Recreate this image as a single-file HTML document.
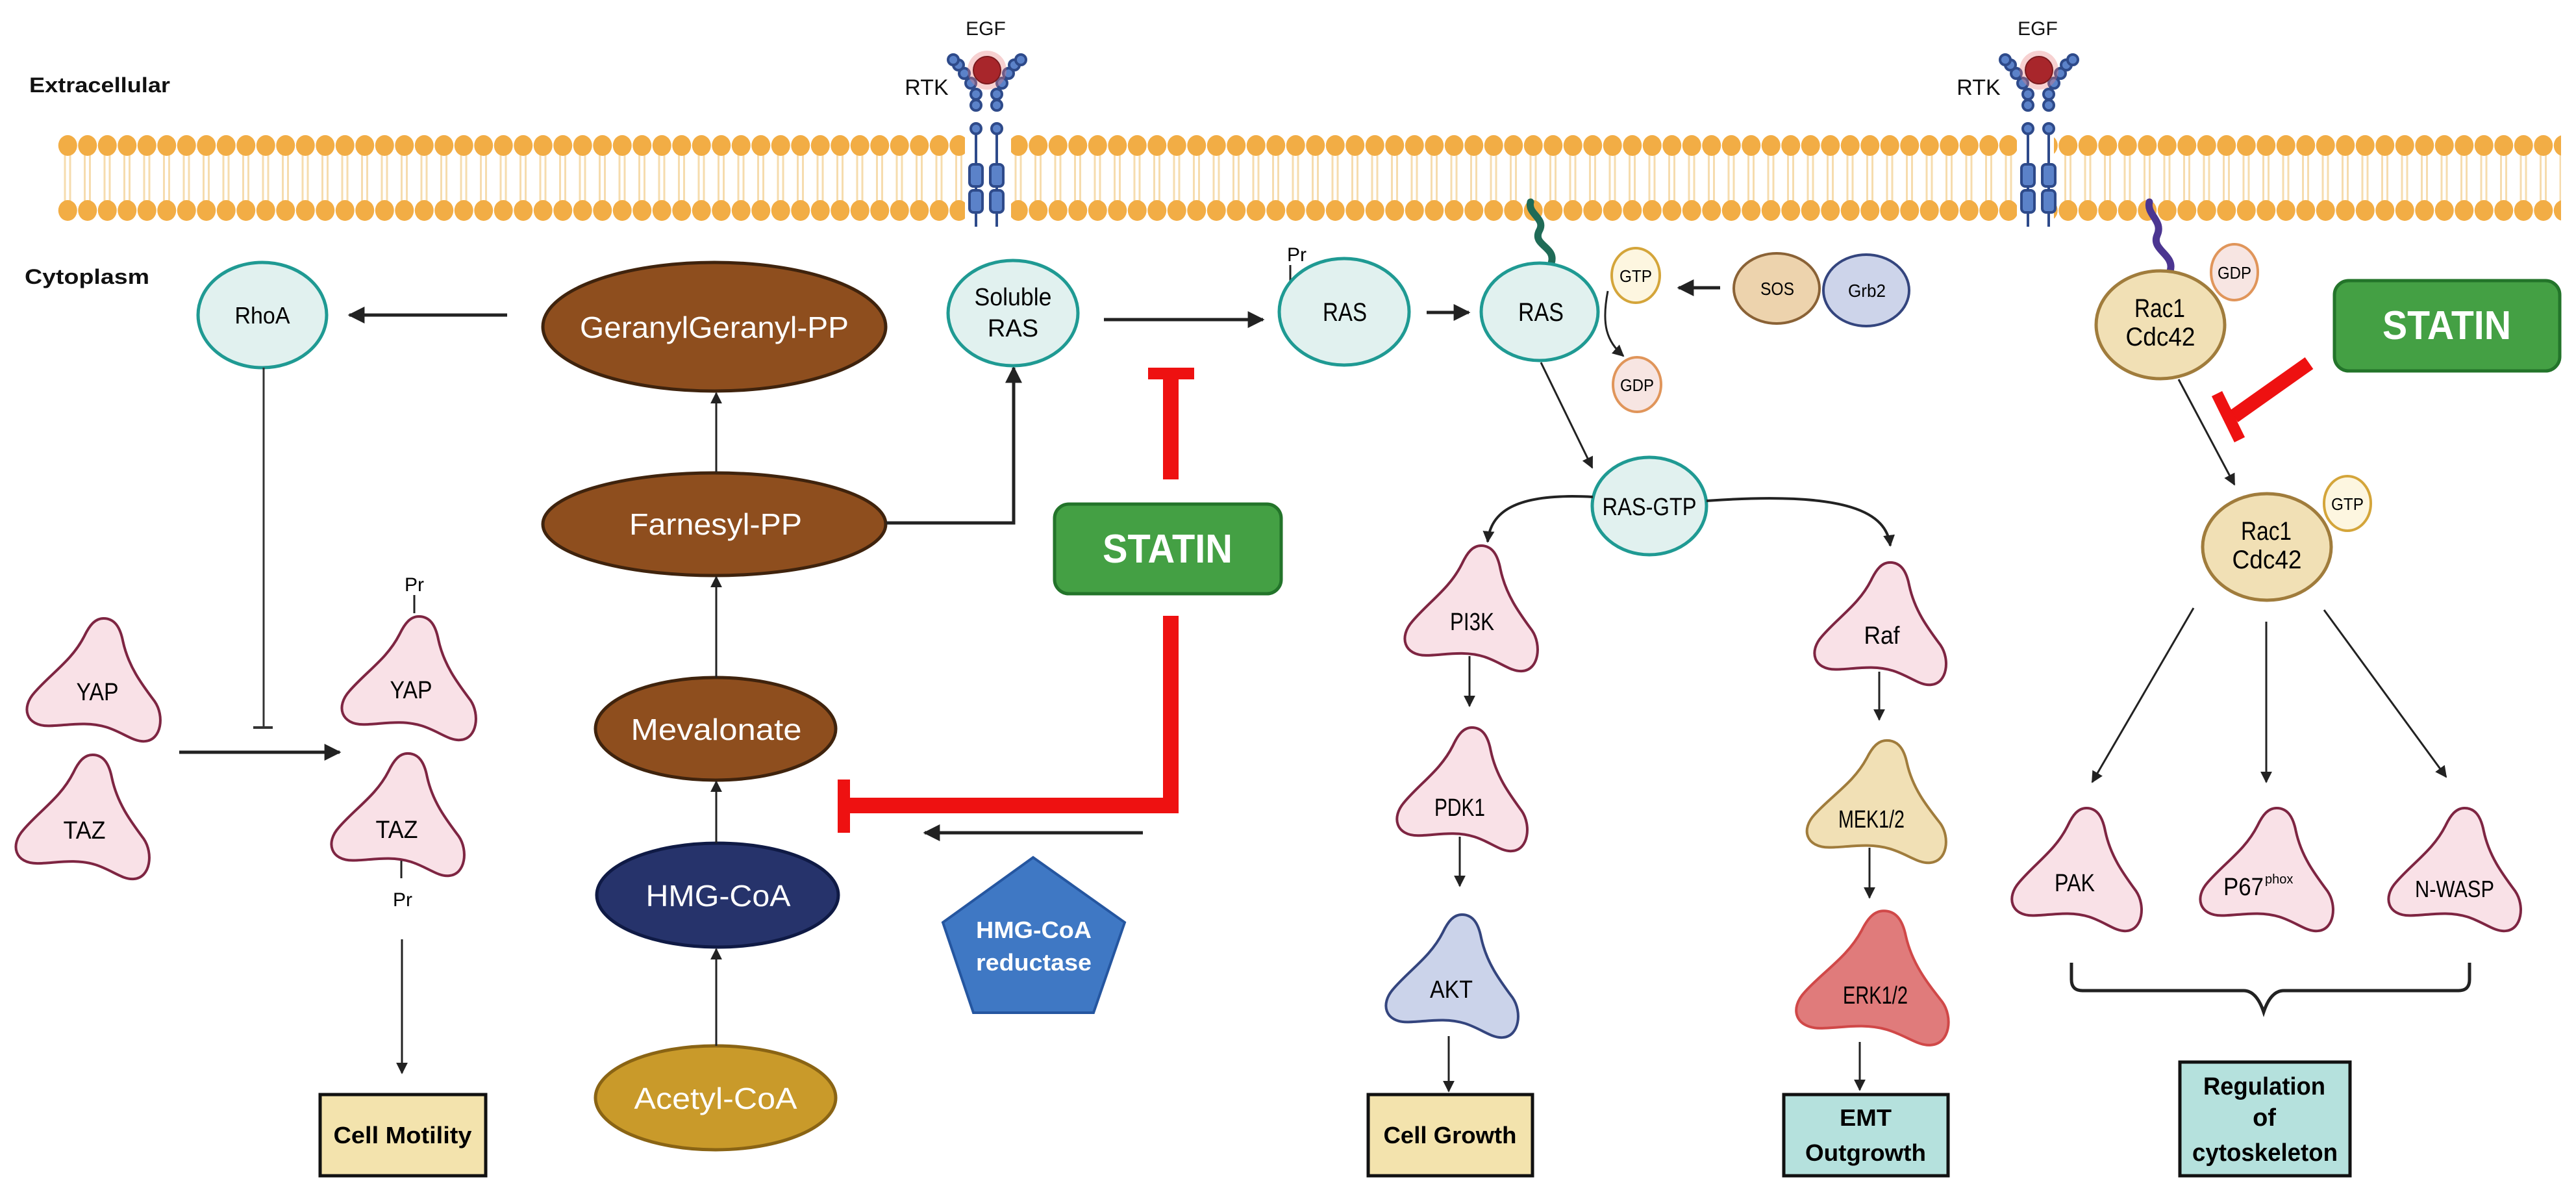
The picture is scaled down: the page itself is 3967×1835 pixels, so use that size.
<!DOCTYPE html>
<html><head><meta charset="utf-8"><style>
html,body{margin:0;padding:0;background:#fff;}
svg{display:block;}
text{font-family:"Liberation Sans",sans-serif;}
</style></head><body>
<svg width="3967" height="1835" viewBox="0 0 3967 1835" xmlns="http://www.w3.org/2000/svg">
<defs>
<pattern id="mem" x="89" y="208" width="30.5" height="132" patternUnits="userSpaceOnUse">
<line x1="11" y1="30" x2="11" y2="102" stroke="#f6dcae" stroke-width="3"/>
<line x1="19" y1="30" x2="19" y2="102" stroke="#f6dcae" stroke-width="3"/>
<ellipse cx="15.25" cy="16" rx="14.5" ry="16" fill="#f2ad45"/>
<ellipse cx="15.25" cy="116" rx="14.5" ry="16" fill="#f2ad45"/>
</pattern>
<marker id="ah" viewBox="0 0 10 10" refX="9" refY="5" markerUnits="userSpaceOnUse" markerWidth="26" markerHeight="26" orient="auto"><path d="M0,0 L10,5 L0,10 z" fill="#222"/></marker>
<marker id="as" viewBox="0 0 10 10" refX="9" refY="5" markerUnits="userSpaceOnUse" markerWidth="18" markerHeight="18" orient="auto"><path d="M0,0 L10,5 L0,10 z" fill="#222"/></marker>
<path id="prot" vector-effect="non-scaling-stroke" d="M58 2 C66 2 70 9 72 20 C76 40 86 54 95 67 C102 78 100 97 88 98 C80 99 72 91 60 87 C45 82 30 86 18 86 C2 86 -2 72 8 60 C20 45 35 35 44 16 C48 7 52 2 58 2 Z"/>
</defs>

<!-- labels -->
<text x="45" y="142" font-size="32" font-weight="bold" textLength="217" lengthAdjust="spacingAndGlyphs" fill="#111">Extracellular</text>
<text x="38" y="437" font-size="32" font-weight="bold" textLength="192" lengthAdjust="spacingAndGlyphs" fill="#111">Cytoplasm</text>

<!-- membrane -->
<rect x="89" y="208" width="1397" height="132" fill="url(#mem)"/>
<rect x="1557" y="208" width="1549" height="132" fill="url(#mem)"/>
<rect x="3163" y="208" width="781" height="132" fill="url(#mem)"/>

<!-- RTK 1 & 2 -->
<g id="rtk1">
<g stroke="#2e4a8a" stroke-width="4" fill="#5b82c9">
<line x1="1503" y1="200" x2="1503" y2="349"/><line x1="1535" y1="200" x2="1535" y2="349"/>
<rect x="1493" y="253" width="20" height="34" rx="6"/><rect x="1493" y="293" width="20" height="34" rx="6"/>
<rect x="1525" y="253" width="20" height="34" rx="6"/><rect x="1525" y="293" width="20" height="34" rx="6"/>
<circle cx="1503" cy="198" r="8"/><circle cx="1535" cy="198" r="8"/>
<circle cx="1503" cy="162" r="8"/><circle cx="1535" cy="162" r="8"/>
<circle cx="1503" cy="145" r="8"/><circle cx="1535" cy="145" r="8"/>
<circle cx="1495" cy="128" r="8"/><circle cx="1543" cy="128" r="8"/>
<circle cx="1485" cy="113" r="8"/><circle cx="1553" cy="113" r="8"/>
<circle cx="1476" cy="100" r="8"/><circle cx="1562" cy="100" r="8"/>
<circle cx="1468" cy="92" r="8"/><circle cx="1572" cy="92" r="8"/>
</g>
<circle cx="1520" cy="108" r="30" fill="#e87a7a" opacity="0.35"/>
<circle cx="1520" cy="108" r="21" fill="#a8262b" stroke="#7a1a1e" stroke-width="2"/>
</g>
<use href="#rtk1" transform="translate(1620,0)"/>
<text x="1518" y="54" font-size="30" text-anchor="middle" fill="#111">EGF</text>
<text x="1427" y="146" font-size="34" text-anchor="middle" fill="#111">RTK</text>
<text x="3138" y="54" font-size="30" text-anchor="middle" fill="#111">EGF</text>
<text x="3047" y="146" font-size="34" text-anchor="middle" fill="#111">RTK</text>

<!-- RhoA -->
<ellipse cx="404" cy="485" rx="99" ry="81" fill="#e1f1ef" stroke="#1f9a93" stroke-width="5"/>
<text x="404" y="498" font-size="36" text-anchor="middle" textLength="85" lengthAdjust="spacingAndGlyphs">RhoA</text>
<line x1="781" y1="485" x2="538" y2="485" stroke="#222" stroke-width="5" marker-end="url(#ah)"/>
<line x1="406" y1="566" x2="406" y2="1120" stroke="#333" stroke-width="3"/>
<line x1="390" y1="1120" x2="420" y2="1120" stroke="#333" stroke-width="4"/>

<!-- Mevalonate pathway -->
<ellipse cx="1100" cy="503" rx="264" ry="99" fill="#8e4e1e" stroke="#3f230d" stroke-width="5"/>
<text x="1100" y="520" font-size="46" text-anchor="middle" fill="#fff" textLength="414" lengthAdjust="spacingAndGlyphs">GeranylGeranyl-PP</text>
<ellipse cx="1100" cy="807" rx="264" ry="79" fill="#8e4e1e" stroke="#3f230d" stroke-width="5"/>
<text x="1102" y="823" font-size="46" text-anchor="middle" fill="#fff" textLength="266" lengthAdjust="spacingAndGlyphs">Farnesyl-PP</text>
<ellipse cx="1102" cy="1122" rx="185" ry="79" fill="#8e4e1e" stroke="#3f230d" stroke-width="5"/>
<text x="1103" y="1139" font-size="46" text-anchor="middle" fill="#fff" textLength="263" lengthAdjust="spacingAndGlyphs">Mevalonate</text>
<ellipse cx="1105" cy="1378" rx="186" ry="80" fill="#26336b" stroke="#0f1a45" stroke-width="5"/>
<text x="1106" y="1395" font-size="46" text-anchor="middle" fill="#fff" textLength="223" lengthAdjust="spacingAndGlyphs">HMG-CoA</text>
<ellipse cx="1102" cy="1690" rx="185" ry="80" fill="#c99a2a" stroke="#8a6414" stroke-width="5"/>
<text x="1102" y="1707" font-size="46" text-anchor="middle" fill="#fff" textLength="251" lengthAdjust="spacingAndGlyphs">Acetyl-CoA</text>
<g stroke="#222" stroke-width="3" marker-end="url(#as)">
<line x1="1103" y1="727" x2="1103" y2="605"/>
<line x1="1103" y1="1043" x2="1103" y2="888"/>
<line x1="1103" y1="1298" x2="1103" y2="1203"/>
<line x1="1103" y1="1610" x2="1103" y2="1461"/>
</g>
<polyline points="1365,805 1561,805 1561,566" fill="none" stroke="#222" stroke-width="5" marker-end="url(#ah)"/>

<!-- Soluble RAS -->
<ellipse cx="1560" cy="482" rx="100" ry="81" fill="#e1f1ef" stroke="#1f9a93" stroke-width="5"/>
<text x="1560" y="470" font-size="38" text-anchor="middle" textLength="119" lengthAdjust="spacingAndGlyphs">Soluble</text>
<text x="1560" y="518" font-size="38" text-anchor="middle">RAS</text>
<line x1="1700" y1="492" x2="1945" y2="492" stroke="#222" stroke-width="5" marker-end="url(#ah)"/>

<!-- STATIN left -->
<rect x="1624" y="776" width="349" height="138" rx="22" fill="#44a044" stroke="#23742a" stroke-width="5"/>
<text x="1798" y="866" font-size="62" font-weight="bold" fill="#fff" text-anchor="middle" textLength="200" lengthAdjust="spacingAndGlyphs">STATIN</text>
<rect x="1768" y="566" width="71" height="18" fill="#ee1111"/>
<rect x="1791" y="584" width="24" height="154" fill="#ee1111"/>
<path d="M1803,948 L1803,1240 L1300,1240" fill="none" stroke="#ee1111" stroke-width="24"/>
<rect x="1290" y="1200" width="19" height="82" fill="#ee1111"/>
<line x1="1760" y1="1282" x2="1424" y2="1282" stroke="#222" stroke-width="5" marker-end="url(#ah)"/>
<polygon points="1591,1320 1732,1420 1684,1559 1499,1559 1452,1420" fill="#3f78c4" stroke="#2556a0" stroke-width="4"/>
<text x="1592" y="1444" font-size="36" font-weight="bold" fill="#fff" text-anchor="middle" textLength="178" lengthAdjust="spacingAndGlyphs">HMG-CoA</text>
<text x="1592" y="1494" font-size="36" font-weight="bold" fill="#fff" text-anchor="middle" textLength="178" lengthAdjust="spacingAndGlyphs">reductase</text>

<!-- YAP / TAZ -->
<use href="#prot" transform="translate(36,948) scale(2.13,1.97)" fill="#f9e1e7" stroke="#7e2542" stroke-width="4"/>
<text x="150" y="1078" font-size="38" text-anchor="middle" textLength="65" lengthAdjust="spacingAndGlyphs">YAP</text>
<use href="#prot" transform="translate(19,1158) scale(2.13,1.99)" fill="#f9e1e7" stroke="#7e2542" stroke-width="4"/>
<text x="130" y="1291" font-size="38" text-anchor="middle" textLength="65" lengthAdjust="spacingAndGlyphs">TAZ</text>
<use href="#prot" transform="translate(521,945) scale(2.14,1.98)" fill="#f9e1e7" stroke="#7e2542" stroke-width="4"/>
<text x="633" y="1075" font-size="38" text-anchor="middle" textLength="65" lengthAdjust="spacingAndGlyphs">YAP</text>
<use href="#prot" transform="translate(505,1156) scale(2.12,1.96)" fill="#f9e1e7" stroke="#7e2542" stroke-width="4"/>
<text x="611" y="1290" font-size="38" text-anchor="middle" textLength="65" lengthAdjust="spacingAndGlyphs">TAZ</text>
<text x="638" y="910" font-size="30" text-anchor="middle">Pr</text>
<line x1="638" y1="916" x2="638" y2="944" stroke="#222" stroke-width="3"/>
<line x1="618" y1="1325" x2="618" y2="1352" stroke="#222" stroke-width="3"/>
<text x="620" y="1395" font-size="30" text-anchor="middle">Pr</text>
<line x1="276" y1="1158" x2="523" y2="1158" stroke="#222" stroke-width="5" marker-end="url(#ah)"/>
<line x1="619" y1="1446" x2="619" y2="1652" stroke="#222" stroke-width="3" marker-end="url(#as)"/>
<rect x="493" y="1685" width="255" height="125" fill="#f3e3ad" stroke="#111" stroke-width="5"/>
<text x="620" y="1760" font-size="36" font-weight="bold" text-anchor="middle" textLength="213" lengthAdjust="spacingAndGlyphs">Cell Motility</text>

<!-- RAS -->
<text x="1997" y="402" font-size="30" text-anchor="middle">Pr</text>
<line x1="1987" y1="408" x2="1987" y2="434" stroke="#222" stroke-width="3"/>
<ellipse cx="2070" cy="480" rx="100" ry="82" fill="#e1f1ef" stroke="#1f9a93" stroke-width="5"/>
<text x="2071" y="494" font-size="40" text-anchor="middle" textLength="68" lengthAdjust="spacingAndGlyphs">RAS</text>
<line x1="2197" y1="481" x2="2262" y2="481" stroke="#222" stroke-width="5" marker-end="url(#ah)"/>
<path d="M2389,405 C2397,380 2360,378 2370,356 C2382,336 2352,330 2357,311" fill="none" stroke="#1f6b57" stroke-width="11" stroke-linecap="round"/>
<ellipse cx="2371" cy="480" rx="90" ry="75" fill="#e1f1ef" stroke="#1f9a93" stroke-width="5"/>
<text x="2373" y="494" font-size="40" text-anchor="middle" textLength="70" lengthAdjust="spacingAndGlyphs">RAS</text>
<ellipse cx="2519" cy="424" rx="37" ry="42" fill="#fdf6e0" stroke="#d4a53a" stroke-width="4"/>
<text x="2519" y="434" font-size="26" text-anchor="middle" textLength="50" lengthAdjust="spacingAndGlyphs">GTP</text>
<ellipse cx="2521" cy="592" rx="37" ry="42" fill="#f7e5e2" stroke="#e0955a" stroke-width="4"/>
<text x="2521" y="602" font-size="26" text-anchor="middle" textLength="52" lengthAdjust="spacingAndGlyphs">GDP</text>
<path d="M2476,448 C2466,500 2474,525 2500,548" fill="none" stroke="#222" stroke-width="3" marker-end="url(#as)"/>
<line x1="2649" y1="443" x2="2585" y2="443" stroke="#222" stroke-width="5" marker-end="url(#ah)"/>
<ellipse cx="2736" cy="444" rx="66" ry="54" fill="#edd3ad" stroke="#8a6236" stroke-width="4"/>
<text x="2737" y="454" font-size="28" text-anchor="middle" textLength="52" lengthAdjust="spacingAndGlyphs">SOS</text>
<ellipse cx="2874" cy="447" rx="66" ry="55" fill="#cdd4ea" stroke="#34457e" stroke-width="4"/>
<text x="2875" y="457" font-size="28" text-anchor="middle" textLength="58" lengthAdjust="spacingAndGlyphs">Grb2</text>
<line x1="2373" y1="558" x2="2452" y2="720" stroke="#222" stroke-width="3" marker-end="url(#as)"/>
<ellipse cx="2540" cy="779" rx="88" ry="75" fill="#e1f1ef" stroke="#1f9a93" stroke-width="5"/>
<text x="2540" y="793" font-size="38" text-anchor="middle" textLength="145" lengthAdjust="spacingAndGlyphs">RAS-GTP</text>
<path d="M2453,765 C2330,758 2295,790 2291,834" fill="none" stroke="#222" stroke-width="4" marker-end="url(#as)"/>
<path d="M2628,771 C2850,755 2905,790 2911,840" fill="none" stroke="#222" stroke-width="4" marker-end="url(#as)"/>

<!-- PI3K branch -->
<use href="#prot" transform="translate(2158,836) scale(2.12,2.01)" fill="#f9e1e7" stroke="#7e2542" stroke-width="4"/>
<text x="2267" y="970" font-size="38" text-anchor="middle" textLength="68" lengthAdjust="spacingAndGlyphs">PI3K</text>
<line x1="2263" y1="1010" x2="2263" y2="1087" stroke="#222" stroke-width="3" marker-end="url(#as)"/>
<use href="#prot" transform="translate(2146,1116) scale(2.08,1.98)" fill="#f9e1e7" stroke="#7e2542" stroke-width="4"/>
<text x="2248" y="1256" font-size="38" text-anchor="middle" textLength="78" lengthAdjust="spacingAndGlyphs">PDK1</text>
<line x1="2248" y1="1288" x2="2248" y2="1364" stroke="#222" stroke-width="3" marker-end="url(#as)"/>
<use href="#prot" transform="translate(2129,1404) scale(2.11,1.97)" fill="#cbd3ea" stroke="#34457e" stroke-width="4"/>
<text x="2235" y="1536" font-size="38" text-anchor="middle" textLength="66" lengthAdjust="spacingAndGlyphs">AKT</text>
<line x1="2231" y1="1595" x2="2231" y2="1680" stroke="#222" stroke-width="3" marker-end="url(#as)"/>
<rect x="2107" y="1685" width="253" height="125" fill="#f3e3ad" stroke="#111" stroke-width="5"/>
<text x="2233" y="1760" font-size="36" font-weight="bold" text-anchor="middle" textLength="205" lengthAdjust="spacingAndGlyphs">Cell Growth</text>

<!-- Raf branch -->
<use href="#prot" transform="translate(2789,862) scale(2.1,1.96)" fill="#f9e1e7" stroke="#7e2542" stroke-width="4"/>
<text x="2898" y="991" font-size="38" text-anchor="middle" textLength="55" lengthAdjust="spacingAndGlyphs">Raf</text>
<line x1="2894" y1="1034" x2="2894" y2="1108" stroke="#222" stroke-width="3" marker-end="url(#as)"/>
<use href="#prot" transform="translate(2777,1136) scale(2.22,1.96)" fill="#f1e0b5" stroke="#a07c3c" stroke-width="4"/>
<text x="2882" y="1274" font-size="38" text-anchor="middle" textLength="102" lengthAdjust="spacingAndGlyphs">MEK1/2</text>
<line x1="2879" y1="1305" x2="2879" y2="1382" stroke="#222" stroke-width="3" marker-end="url(#as)"/>
<use href="#prot" transform="translate(2760,1398) scale(2.43,2.15)" fill="#e07b7b" stroke="#d04848" stroke-width="4"/>
<text x="2888" y="1545" font-size="38" text-anchor="middle" textLength="100" lengthAdjust="spacingAndGlyphs">ERK1/2</text>
<line x1="2864" y1="1604" x2="2864" y2="1678" stroke="#222" stroke-width="3" marker-end="url(#as)"/>
<rect x="2747" y="1685" width="253" height="125" fill="#b5e1dd" stroke="#111" stroke-width="5"/>
<text x="2873" y="1733" font-size="36" font-weight="bold" text-anchor="middle" textLength="80" lengthAdjust="spacingAndGlyphs">EMT</text>
<text x="2873" y="1787" font-size="36" font-weight="bold" text-anchor="middle" textLength="186" lengthAdjust="spacingAndGlyphs">Outgrowth</text>

<!-- Rac1 -->
<path d="M3342,417 C3350,392 3312,385 3322,362 C3332,340 3305,330 3310,311" fill="none" stroke="#4b3591" stroke-width="11" stroke-linecap="round"/>
<ellipse cx="3441" cy="419" rx="36" ry="43" fill="#f7e5e2" stroke="#e0955a" stroke-width="4"/>
<text x="3441" y="429" font-size="26" text-anchor="middle" textLength="52" lengthAdjust="spacingAndGlyphs">GDP</text>
<ellipse cx="3327" cy="500" rx="99" ry="83" fill="#f1e0b5" stroke="#a07c3c" stroke-width="5"/>
<text x="3326" y="488" font-size="40" text-anchor="middle" textLength="78" lengthAdjust="spacingAndGlyphs">Rac1</text>
<text x="3327" y="532" font-size="40" text-anchor="middle" textLength="107" lengthAdjust="spacingAndGlyphs">Cdc42</text>
<rect x="3595" y="432" width="347" height="139" rx="22" fill="#44a044" stroke="#23742a" stroke-width="5"/>
<text x="3768" y="522" font-size="62" font-weight="bold" fill="#fff" text-anchor="middle" textLength="198" lengthAdjust="spacingAndGlyphs">STATIN</text>
<line x1="3556" y1="559" x2="3440" y2="641" stroke="#ee1111" stroke-width="22"/>
<line x1="3414" y1="606" x2="3449" y2="677" stroke="#ee1111" stroke-width="18"/>
<line x1="3355" y1="584" x2="3441" y2="746" stroke="#222" stroke-width="3" marker-end="url(#as)"/>
<ellipse cx="3615" cy="775" rx="36" ry="42" fill="#fdf6e0" stroke="#d4a53a" stroke-width="4"/>
<text x="3615" y="785" font-size="26" text-anchor="middle" textLength="50" lengthAdjust="spacingAndGlyphs">GTP</text>
<ellipse cx="3491" cy="842" rx="99" ry="82" fill="#f1e0b5" stroke="#a07c3c" stroke-width="5"/>
<text x="3490" y="831" font-size="40" text-anchor="middle" textLength="78" lengthAdjust="spacingAndGlyphs">Rac1</text>
<text x="3491" y="875" font-size="40" text-anchor="middle" textLength="107" lengthAdjust="spacingAndGlyphs">Cdc42</text>
<g stroke="#222" stroke-width="3" marker-end="url(#as)">
<line x1="3378" y1="936" x2="3222" y2="1204"/>
<line x1="3490" y1="957" x2="3490" y2="1204"/>
<line x1="3579" y1="939" x2="3767" y2="1196"/>
</g>
<use href="#prot" transform="translate(3093,1240) scale(2.07,1.97)" fill="#f9e1e7" stroke="#7e2542" stroke-width="4"/>
<text x="3195" y="1372" font-size="38" text-anchor="middle" textLength="62" lengthAdjust="spacingAndGlyphs">PAK</text>
<use href="#prot" transform="translate(3383,1240) scale(2.12,1.97)" fill="#f9e1e7" stroke="#7e2542" stroke-width="4"/>
<text x="3455" y="1378" font-size="38" text-anchor="middle" textLength="62" lengthAdjust="spacingAndGlyphs">P67</text><text x="3488" y="1360" font-size="20">phox</text>
<use href="#prot" transform="translate(3673,1240) scale(2.11,1.97)" fill="#f9e1e7" stroke="#7e2542" stroke-width="4"/>
<text x="3780" y="1381" font-size="36" text-anchor="middle" textLength="122" lengthAdjust="spacingAndGlyphs">N-WASP</text>
<path d="M3190,1482 L3190,1508 Q3190,1525 3207,1525 L3455,1525 Q3475,1525 3486,1558 Q3497,1525 3517,1525 L3786,1525 Q3803,1525 3803,1508 L3803,1482" fill="none" stroke="#222" stroke-width="5"/>
<rect x="3357" y="1635" width="262" height="175" fill="#b5e1dd" stroke="#111" stroke-width="5"/>
<text x="3487" y="1685" font-size="38" font-weight="bold" text-anchor="middle" textLength="188" lengthAdjust="spacingAndGlyphs">Regulation</text>
<text x="3487" y="1733" font-size="38" font-weight="bold" text-anchor="middle">of</text>
<text x="3488" y="1787" font-size="38" font-weight="bold" text-anchor="middle" textLength="224" lengthAdjust="spacingAndGlyphs">cytoskeleton</text>
</svg>
</body></html>
